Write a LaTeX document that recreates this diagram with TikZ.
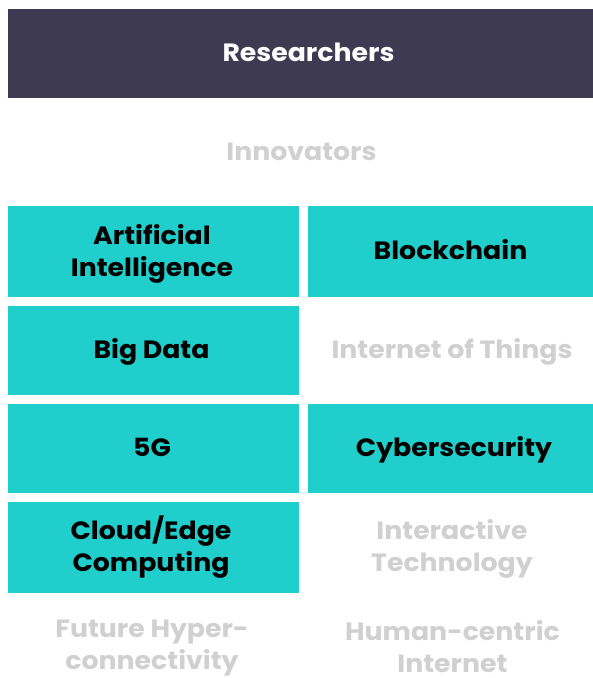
\documentclass[tikz,border=0pt]{standalone}
\usepackage{fontspec}
\setmainfont{Poppins}[FakeStretch=1.07]
\definecolor{darkbar}{HTML}{3E3A52}
\definecolor{teal}{HTML}{20CFCB}
\definecolor{lightgrey}{HTML}{D0D0D0}
\newcommand{\lstrut}{\rule[-8pt]{0pt}{32pt}}
\newcommand{\lstrutlast}{\rule{0pt}{24pt}}
\begin{document}
\begin{tikzpicture}[x=1pt,y=-1pt,
  lbl/.style={font=\fontsize{25}{32}\selectfont\bfseries, align=center, inner sep=0pt},
  tbox/.style={fill=teal, draw=none},
  darklbl/.style={lbl, text=black},
  greylbl/.style={lbl, text=lightgrey}]
\useasboundingbox (0,0) rectangle (593,678);
\fill[darkbar] (8,9) rectangle (593,98);
\node[lbl, text=white] (res) at (308.5,53.5) {\lstrut Researchers};
\node[greylbl] (inn) at (301.5,152) {\lstrut Innovators};
% left column
\fill[tbox] (8,206) rectangle (299,297);
\fill[tbox] (8,306) rectangle (299,395);
\fill[tbox] (8,404) rectangle (299,493);
\fill[tbox] (8,502) rectangle (299,593);
% right column
\fill[tbox] (308,206) rectangle (593,297);
\fill[tbox] (308,404) rectangle (593,493);
\node[darklbl] (ai) at (152,252) {\lstrut Artificial\\\lstrut Intelligence};
\node[darklbl] (bc) at (450.5,251) {\lstrut Blockchain};
\node[darklbl] (bd) at (151.5,350) {\lstrut Big Data};
\node[greylbl] (iot) at (452,350) {\lstrut Internet of Things};
\node[darklbl] (fg) at (152,448) {\lstrut 5G};
\node[darklbl] (cs) at (454,448) {\lstrut Cybersecurity};
\node[darklbl] (ce) at (151,547.5) {\lstrut Cloud/Edge\\\lstrut Computing};
\node[greylbl] (it) at (452,547.5) {\lstrut Interactive\\\lstrut Technology};
\node[greylbl] (fh) at (152,644.5) {\lstrut Future Hyper-\\\lstrutlast connectivity};
\node[greylbl] (hc) at (452.5,644.5) {\lstrut Human-centric\\\lstrutlast Internet};
\end{tikzpicture}
\end{document}
